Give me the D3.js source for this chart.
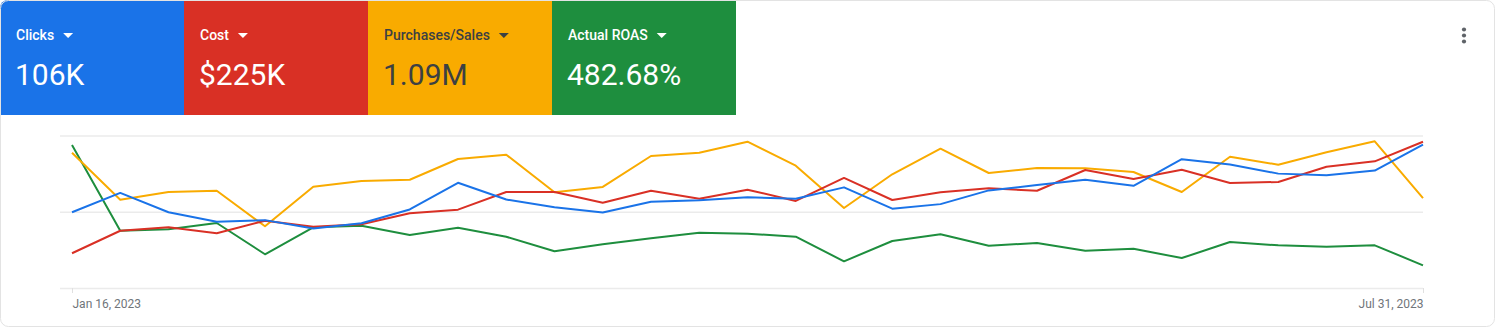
<!DOCTYPE html>
<html>
<head>
<meta charset="utf-8">
<script src="https://cdn.jsdelivr.net/npm/d3@7/dist/d3.min.js"></script>
<style>
  html, body { margin: 0; padding: 0; background: #ffffff; }
  svg { display: block; font-family: Roboto, "Noto Sans", Arial, sans-serif; }
</style>
</head>
<body>
<svg id="chart" width="1495" height="327"></svg>
<script>
// Weekly performance, Jan 16 – Jul 31, 2023
const weeks = d3.range(29).map(i => d3.timeWeek.offset(new Date(2023, 0, 16), i));

const clicks = [2980, 3740, 2980, 2610, 2670, 2340, 2550, 3090, 4140, 3480,
                3180, 2970, 3390, 3450, 3570, 3510, 3960, 3120, 3300, 3840,
                4050, 4260, 4020, 5070, 4860, 4500, 4440, 4620, 5640];
const cost = [2960, 4880, 5170, 4660, 5740, 5230, 5430, 6370, 6680, 8180,
              8180, 7270, 8290, 7610, 8380, 7420, 9380, 7500, 8160, 8500,
              8290, 10060, 9300, 10080, 8950, 9040, 10340, 10800, 12470];
const sales = [44350, 28950, 31480, 31900, 20230, 33230, 35080, 35500, 42300, 43700,
               31380, 33130, 43280, 44350, 47980, 40100, 26230, 37280, 45680, 37700,
               39350, 39250, 38030, 31480, 43050, 40430, 44500, 48100, 29500];
const roas = [1500, 601, 616, 682, 354, 637, 654, 556, 633, 538,
              385, 459, 522, 580, 570, 538, 280, 493, 563, 444,
              472, 391, 412, 314, 482, 448, 434, 448, 238];

// Scorecard tiles
const tileNames = ["Clicks", "Cost", "Purchases/Sales", "Actual ROAS"];
const tileTotals = ["106K", "$225K", "1.09M", "482.68%"];
const tileColors = ["#1a73e8", "#d93025", "#f9ab00", "#1e8e3e"];
const tileText = ["#ffffff", "#ffffff", "#3c4043", "#ffffff"];

// Each metric is plotted on its own axis (0 / mid / max gridlines)
const axisMax = [6000, 13000, 50000, 1600];
const series = [roas, sales, cost, clicks];
const seriesIdx = [3, 2, 1, 0];

const xTickDates = [weeks[0], weeks[weeks.length - 1]];
const fmtTick = d3.timeFormat("%b %-d, %Y");

const W = 1495, H = 327;
const svg = d3.select("#chart");

svg.append("defs").append("clipPath").attr("id", "card")
  .append("rect").attr("width", W).attr("height", H).attr("rx", 8);

const card = svg.append("g").attr("clip-path", "url(#card)");
card.append("rect").attr("width", W).attr("height", H).attr("fill", "#fff");

// Tiles
const tileX = d3.scaleBand().domain(d3.range(4)).range([0, 736]);
const tiles = card.selectAll("g.tile").data(tileNames).join("g")
  .attr("class", "tile")
  .attr("transform", (d, i) => `translate(${tileX(i)},0)`);
tiles.append("rect")
  .attr("width", tileX.bandwidth()).attr("height", 115)
  .attr("fill", (d, i) => tileColors[i]);
tiles.append("text")
  .attr("x", 16).attr("y", 40)
  .attr("font-size", 14).attr("font-weight", 500)
  .attr("fill", (d, i) => tileText[i])
  .text(d => d)
  .each(function (d, i) {
    const w = this.getComputedTextLength();
    d3.select(this.parentNode).append("path")
      .attr("d", `M${16 + w + 9},33 l10,0 l-5,5 z`)
      .attr("fill", tileText[i]);
  });
tiles.append("text")
  .attr("x", 15).attr("y", 85)
  .attr("font-size", 30)
  .attr("fill", (d, i) => tileText[i])
  .text((d, i) => tileTotals[i]);

// Overflow menu
card.selectAll("circle.menu").data([29.5, 35.5, 41.5]).join("circle")
  .attr("class", "menu")
  .attr("cx", 1464).attr("cy", d => d).attr("r", 2.1)
  .attr("fill", "#5f6368");

// Plot
const x = d3.scaleTime().domain(d3.extent(weeks)).range([72, 1423]);
const yNorm = d3.scaleLinear().domain([0, 2]).range([288, 135.5]);

const grid = card.append("g")
  .attr("transform", "translate(60,0)")
  .call(d3.axisLeft(yNorm).tickValues([0, 1, 2]).tickSize(-1363).tickFormat(""));
grid.select(".domain").remove();
grid.selectAll(".tick line").attr("stroke", "#ebebeb").attr("stroke-width", 1.5);

const xAxis = card.append("g")
  .attr("transform", "translate(0,288)")
  .call(d3.axisBottom(x).tickValues(xTickDates).tickFormat(fmtTick).tickSize(5).tickPadding(6));
xAxis.select(".domain").remove();
xAxis.selectAll(".tick line").attr("stroke", "#e0e0e0");
xAxis.selectAll(".tick text")
  .attr("font-size", 12)
  .attr("font-family", "Roboto, sans-serif")
  .attr("fill", "#70757a")
  .attr("text-anchor", (d, i) => i === 0 ? "start" : "end");

series.forEach((vals, k) => {
  const idx = seriesIdx[k];
  const y = d3.scaleLinear().domain([0, axisMax[idx]]).range([288, 135.5]);
  const line = d3.line().x((d, i) => x(weeks[i])).y(d => y(d));
  card.append("path")
    .datum(vals)
    .attr("d", line)
    .attr("fill", "none")
    .attr("stroke", tileColors[idx])
    .attr("stroke-width", 2)
    .attr("stroke-linejoin", "round");
});

// Card outline
svg.append("rect")
  .attr("x", 0.5).attr("y", 0.5).attr("width", W - 1).attr("height", H - 1)
  .attr("rx", 8).attr("fill", "none").attr("stroke", "#e3e3e3");
</script>
</body>
</html>
